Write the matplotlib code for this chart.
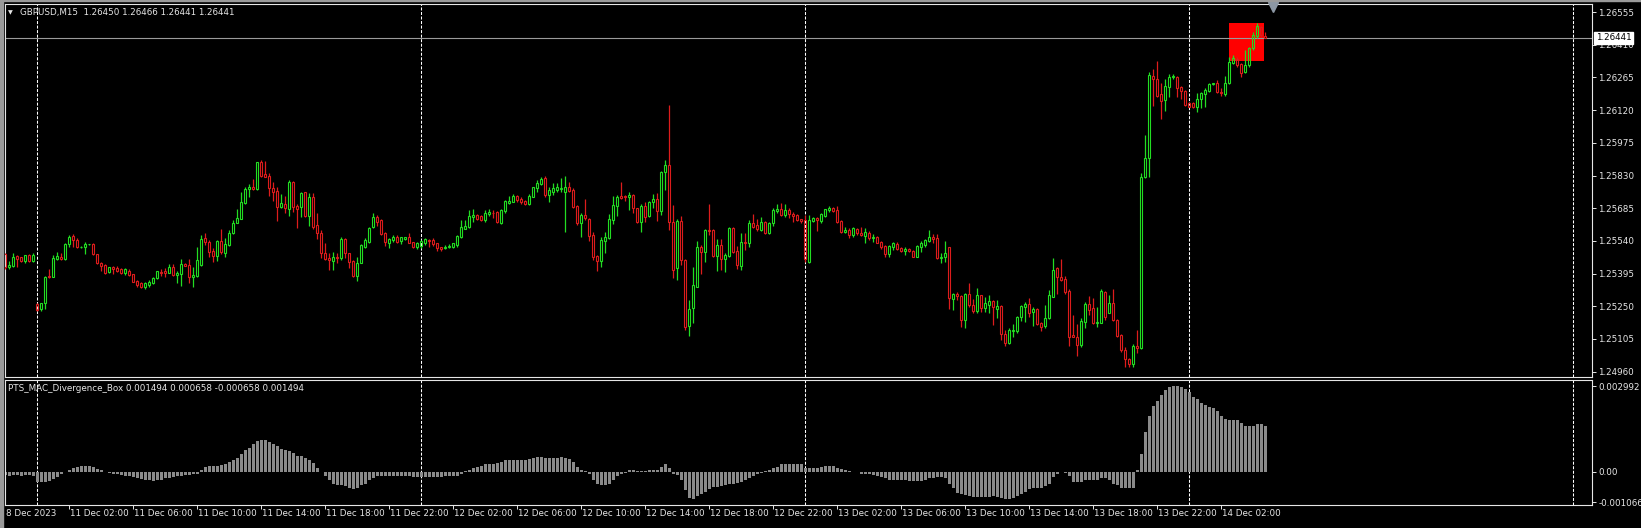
import numpy as np
import matplotlib
matplotlib.use('Agg')
import matplotlib.pyplot as plt
from matplotlib.patches import Rectangle

# GBPUSD M15, first bar is 8 Dec 22:00 (index -8), 11 Dec 00:00 is index 0
symbol = 'GBPUSD,M15'
first_bar = -8

opens = [
    1.25482, 1.25422, 1.25430, 1.25473, 1.25467, 1.25450, 1.25476, 1.25452,
    1.25260, 1.25239, 1.25263, 1.25384, 1.25381, 1.25458, 1.25470, 1.25459, 1.25524, 1.25561,
    1.25544, 1.25514, 1.25514, 1.25524, 1.25526, 1.25480, 1.25443, 1.25433, 1.25402, 1.25422,
    1.25421, 1.25414, 1.25396, 1.25408, 1.25391, 1.25362, 1.25354, 1.25337, 1.25344, 1.25351,
    1.25374, 1.25403, 1.25405, 1.25399, 1.25425, 1.25387, 1.25393, 1.25436, 1.25431, 1.25381,
    1.25384, 1.25433, 1.25551, 1.25533, 1.25496, 1.25473, 1.25541, 1.25487, 1.25521, 1.25573,
    1.25621, 1.25638, 1.25706, 1.25768, 1.25777, 1.25770, 1.25888, 1.25837, 1.25828, 1.25773,
    1.25763, 1.25692, 1.25703, 1.25681, 1.25800, 1.25695, 1.25689, 1.25755, 1.25652, 1.25733,
    1.25610, 1.25576, 1.25485, 1.25463, 1.25452, 1.25470, 1.25463, 1.25547, 1.25485, 1.25452,
    1.25384, 1.25444, 1.25515, 1.25534, 1.25600, 1.25648, 1.25633, 1.25574, 1.25529, 1.25544,
    1.25559, 1.25541, 1.25549, 1.25556, 1.25534, 1.25512, 1.25517, 1.25532, 1.25544, 1.25544,
    1.25529, 1.25512, 1.25507, 1.25512, 1.25512, 1.25522, 1.25559, 1.25594, 1.25603, 1.25648,
    1.25655, 1.25652, 1.25633, 1.25659, 1.25665, 1.25668, 1.25621, 1.25674, 1.25710, 1.25714,
    1.25739, 1.25727, 1.25719, 1.25704, 1.25736, 1.25773, 1.25793, 1.25818, 1.25744, 1.25759,
    1.25766, 1.25769, 1.25759, 1.25778, 1.25766, 1.25695, 1.25621, 1.25655, 1.25636, 1.25566,
    1.25473, 1.25452, 1.25541, 1.25551, 1.25633, 1.25696, 1.25739, 1.25741, 1.25733, 1.25744,
    1.25685, 1.25625, 1.25695, 1.25651, 1.25714, 1.25726, 1.25674, 1.25846, 1.25877, 1.25625,
    1.25418, 1.25628, 1.25455, 1.25162, 1.25244, 1.25337, 1.25514, 1.25492, 1.25588, 1.25588,
    1.25473, 1.25522, 1.25458, 1.25473, 1.25596, 1.25495, 1.25428, 1.25536, 1.25529, 1.25621,
    1.25610, 1.25588, 1.25625, 1.25573, 1.25618, 1.25674, 1.25680, 1.25655, 1.25677, 1.25658,
    1.25655, 1.25635, 1.25633, 1.25448, 1.25630, 1.25640, 1.25630, 1.25652, 1.25677, 1.25686,
    1.25677, 1.25628, 1.25581, 1.25588, 1.25566, 1.25593, 1.25576, 1.25563, 1.25573, 1.25551,
    1.25556, 1.25533, 1.25517, 1.25482, 1.25514, 1.25525, 1.25507, 1.25496, 1.25504, 1.25495,
    1.25470, 1.25514, 1.25522, 1.25541, 1.25556, 1.25551, 1.25462, 1.25467, 1.25511, 1.25281,
    1.25303, 1.25295, 1.25189, 1.25303, 1.25255, 1.25230, 1.25299, 1.25243, 1.25255, 1.25273,
    1.25237, 1.25251, 1.25126, 1.25088, 1.25141, 1.25141, 1.25203, 1.25248, 1.25260, 1.25226,
    1.25237, 1.25174, 1.25162, 1.25196, 1.25292, 1.25418, 1.25378, 1.25373, 1.25319, 1.25122,
    1.25115, 1.25078, 1.25181, 1.25260, 1.25240, 1.25177, 1.25177, 1.25314, 1.25221, 1.25263,
    1.25189, 1.25122, 1.25055, 1.25014, 1.24993, 1.25073, 1.25064, 1.25825, 1.25906, 1.26272,
    1.26257, 1.26192, 1.26165, 1.26224, 1.26266, 1.26269, 1.26221, 1.26207, 1.26153, 1.26150,
    1.26133, 1.26168, 1.26190, 1.26207, 1.26236, 1.26239, 1.26202, 1.26192, 1.26239, 1.26331,
    1.26346, 1.26325, 1.26291, 1.26321, 1.26395, 1.26449, 1.26491, 1.26450,
]
highs = [
    1.25487, 1.25450, 1.25485, 1.25476, 1.25470, 1.25479, 1.25480, 1.25485,
    1.25266, 1.25266, 1.25384, 1.25416, 1.25479, 1.25492, 1.25486, 1.25529, 1.25566, 1.25569,
    1.25553, 1.25518, 1.25533, 1.25527, 1.25530, 1.25483, 1.25448, 1.25437, 1.25425, 1.25427,
    1.25428, 1.25419, 1.25419, 1.25414, 1.25394, 1.25366, 1.25359, 1.25359, 1.25366, 1.25381,
    1.25408, 1.25416, 1.25418, 1.25436, 1.25436, 1.25406, 1.25459, 1.25440, 1.25458, 1.25425,
    1.25514, 1.25564, 1.25573, 1.25544, 1.25510, 1.25544, 1.25591, 1.25551, 1.25588, 1.25632,
    1.25680, 1.25755, 1.25777, 1.25791, 1.25814, 1.25891, 1.25899, 1.25896, 1.25839, 1.25800,
    1.25777, 1.25748, 1.25740, 1.25810, 1.25805, 1.25702, 1.25758, 1.25758, 1.25754, 1.25751,
    1.25662, 1.25588, 1.25532, 1.25488, 1.25492, 1.25488, 1.25556, 1.25551, 1.25488, 1.25455,
    1.25470, 1.25526, 1.25551, 1.25603, 1.25665, 1.25654, 1.25636, 1.25581, 1.25551, 1.25566,
    1.25565, 1.25559, 1.25559, 1.25574, 1.25537, 1.25534, 1.25544, 1.25551, 1.25547, 1.25551,
    1.25532, 1.25515, 1.25522, 1.25525, 1.25532, 1.25566, 1.25633, 1.25633, 1.25677, 1.25682,
    1.25658, 1.25655, 1.25677, 1.25683, 1.25677, 1.25673, 1.25680, 1.25722, 1.25739, 1.25747,
    1.25742, 1.25736, 1.25722, 1.25747, 1.25781, 1.25810, 1.25822, 1.25828, 1.25778, 1.25795,
    1.25798, 1.25818, 1.25828, 1.25803, 1.25773, 1.25699, 1.25662, 1.25726, 1.25640, 1.25578,
    1.25478, 1.25556, 1.25581, 1.25658, 1.25739, 1.25744, 1.25803, 1.25744, 1.25756, 1.25747,
    1.25688, 1.25704, 1.25714, 1.25719, 1.25748, 1.25751, 1.25850, 1.25899, 1.26144, 1.25699,
    1.25635, 1.25650, 1.25458, 1.25278, 1.25422, 1.25539, 1.25522, 1.25593, 1.25704, 1.25591,
    1.25547, 1.25547, 1.25488, 1.25603, 1.25600, 1.25517, 1.25573, 1.25573, 1.25633, 1.25659,
    1.25635, 1.25644, 1.25630, 1.25625, 1.25684, 1.25704, 1.25706, 1.25704, 1.25684, 1.25669,
    1.25658, 1.25637, 1.25655, 1.25653, 1.25644, 1.25647, 1.25665, 1.25683, 1.25695, 1.25692,
    1.25695, 1.25633, 1.25603, 1.25596, 1.25603, 1.25596, 1.25603, 1.25599, 1.25585, 1.25570,
    1.25562, 1.25539, 1.25522, 1.25522, 1.25536, 1.25536, 1.25511, 1.25514, 1.25507, 1.25499,
    1.25520, 1.25539, 1.25548, 1.25588, 1.25570, 1.25570, 1.25488, 1.25539, 1.25514, 1.25307,
    1.25315, 1.25300, 1.25307, 1.25352, 1.25280, 1.25333, 1.25302, 1.25292, 1.25302, 1.25277,
    1.25277, 1.25254, 1.25144, 1.25152, 1.25169, 1.25206, 1.25255, 1.25270, 1.25285, 1.25245,
    1.25242, 1.25181, 1.25255, 1.25322, 1.25462, 1.25425, 1.25458, 1.25384, 1.25325, 1.25211,
    1.25171, 1.25196, 1.25270, 1.25295, 1.25288, 1.25245, 1.25325, 1.25319, 1.25299, 1.25325,
    1.25192, 1.25126, 1.25067, 1.25021, 1.25082, 1.25144, 1.25840, 1.26010, 1.26291, 1.26303,
    1.26338, 1.26239, 1.26257, 1.26281, 1.26281, 1.26272, 1.26227, 1.26210, 1.26158, 1.26158,
    1.26195, 1.26202, 1.26217, 1.26239, 1.26242, 1.26254, 1.26217, 1.26272, 1.26358, 1.26365,
    1.26355, 1.26331, 1.26387, 1.26402, 1.26468, 1.26505, 1.26494, 1.26466,
]
lows = [
    1.25415, 1.25415, 1.25425, 1.25425, 1.25446, 1.25440, 1.25445, 1.25448,
    1.25230, 1.25229, 1.25239, 1.25375, 1.25381, 1.25455, 1.25455, 1.25455, 1.25511, 1.25511,
    1.25510, 1.25510, 1.25480, 1.25520, 1.25479, 1.25436, 1.25406, 1.25393, 1.25396, 1.25393,
    1.25402, 1.25393, 1.25390, 1.25385, 1.25356, 1.25337, 1.25332, 1.25328, 1.25337, 1.25348,
    1.25372, 1.25384, 1.25381, 1.25396, 1.25384, 1.25351, 1.25341, 1.25428, 1.25351, 1.25334,
    1.25381, 1.25430, 1.25521, 1.25467, 1.25448, 1.25450, 1.25482, 1.25470, 1.25519, 1.25569,
    1.25618, 1.25635, 1.25703, 1.25736, 1.25765, 1.25765, 1.25822, 1.25822, 1.25740, 1.25718,
    1.25629, 1.25684, 1.25662, 1.25652, 1.25669, 1.25598, 1.25647, 1.25647, 1.25606, 1.25592,
    1.25547, 1.25462, 1.25455, 1.25411, 1.25411, 1.25444, 1.25455, 1.25463, 1.25418, 1.25381,
    1.25364, 1.25441, 1.25507, 1.25529, 1.25596, 1.25606, 1.25566, 1.25517, 1.25510, 1.25537,
    1.25529, 1.25526, 1.25544, 1.25529, 1.25507, 1.25506, 1.25507, 1.25522, 1.25512, 1.25519,
    1.25497, 1.25497, 1.25504, 1.25507, 1.25507, 1.25515, 1.25551, 1.25591, 1.25596, 1.25625,
    1.25633, 1.25630, 1.25625, 1.25651, 1.25640, 1.25621, 1.25615, 1.25662, 1.25704, 1.25711,
    1.25714, 1.25704, 1.25699, 1.25701, 1.25733, 1.25759, 1.25788, 1.25736, 1.25711, 1.25744,
    1.25759, 1.25759, 1.25581, 1.25759, 1.25685, 1.25611, 1.25556, 1.25633, 1.25541, 1.25455,
    1.25408, 1.25426, 1.25485, 1.25547, 1.25615, 1.25651, 1.25725, 1.25719, 1.25677, 1.25665,
    1.25621, 1.25581, 1.25625, 1.25645, 1.25684, 1.25630, 1.25655, 1.25766, 1.25588, 1.25374,
    1.25366, 1.25433, 1.25144, 1.25118, 1.25177, 1.25334, 1.25393, 1.25448, 1.25566, 1.25467,
    1.25408, 1.25411, 1.25403, 1.25470, 1.25488, 1.25414, 1.25411, 1.25499, 1.25514, 1.25596,
    1.25585, 1.25585, 1.25570, 1.25570, 1.25606, 1.25665, 1.25650, 1.25647, 1.25640, 1.25625,
    1.25630, 1.25621, 1.25448, 1.25443, 1.25625, 1.25585, 1.25621, 1.25647, 1.25669, 1.25669,
    1.25621, 1.25576, 1.25573, 1.25551, 1.25559, 1.25566, 1.25562, 1.25532, 1.25544, 1.25536,
    1.25529, 1.25502, 1.25467, 1.25470, 1.25499, 1.25499, 1.25492, 1.25477, 1.25492, 1.25467,
    1.25467, 1.25492, 1.25514, 1.25536, 1.25529, 1.25458, 1.25443, 1.25448, 1.25236, 1.25233,
    1.25278, 1.25159, 1.25152, 1.25248, 1.25218, 1.25221, 1.25226, 1.25223, 1.25221, 1.25166,
    1.25200, 1.25100, 1.25075, 1.25082, 1.25115, 1.25132, 1.25186, 1.25181, 1.25203, 1.25162,
    1.25166, 1.25141, 1.25152, 1.25192, 1.25289, 1.25304, 1.25363, 1.25304, 1.25073, 1.25112,
    1.25029, 1.25070, 1.25152, 1.25211, 1.25171, 1.25159, 1.25174, 1.25189, 1.25218, 1.25186,
    1.25112, 1.25048, 1.24981, 1.24981, 1.24981, 1.25041, 1.25061, 1.25818, 1.25825, 1.26139,
    1.26180, 1.26080, 1.26118, 1.26177, 1.26260, 1.26180, 1.26168, 1.26139, 1.26133, 1.26128,
    1.26114, 1.26128, 1.26133, 1.26202, 1.26233, 1.26198, 1.26185, 1.26183, 1.26236, 1.26324,
    1.26313, 1.26269, 1.26287, 1.26313, 1.26387, 1.26439, 1.26446, 1.26441,
]
closes = [
    1.25422, 1.25433, 1.25470, 1.25461, 1.25450, 1.25476, 1.25450, 1.25479,
    1.25233, 1.25263, 1.25381, 1.25378, 1.25464, 1.25473, 1.25459, 1.25524, 1.25557, 1.25544,
    1.25514, 1.25514, 1.25524, 1.25524, 1.25482, 1.25440, 1.25428, 1.25399, 1.25422, 1.25414,
    1.25408, 1.25399, 1.25414, 1.25388, 1.25359, 1.25344, 1.25337, 1.25354, 1.25359, 1.25377,
    1.25406, 1.25399, 1.25399, 1.25425, 1.25387, 1.25399, 1.25436, 1.25430, 1.25381, 1.25388,
    1.25455, 1.25548, 1.25533, 1.25492, 1.25474, 1.25539, 1.25492, 1.25524, 1.25573, 1.25621,
    1.25643, 1.25711, 1.25770, 1.25780, 1.25771, 1.25888, 1.25828, 1.25825, 1.25773, 1.25758,
    1.25692, 1.25709, 1.25684, 1.25800, 1.25692, 1.25680, 1.25754, 1.25652, 1.25733, 1.25603,
    1.25573, 1.25485, 1.25458, 1.25455, 1.25467, 1.25463, 1.25547, 1.25485, 1.25448, 1.25384,
    1.25444, 1.25522, 1.25544, 1.25596, 1.25645, 1.25625, 1.25571, 1.25537, 1.25547, 1.25559,
    1.25537, 1.25556, 1.25556, 1.25532, 1.25512, 1.25529, 1.25538, 1.25547, 1.25541, 1.25526,
    1.25507, 1.25503, 1.25515, 1.25517, 1.25529, 1.25563, 1.25600, 1.25606, 1.25652, 1.25654,
    1.25636, 1.25633, 1.25665, 1.25668, 1.25662, 1.25625, 1.25677, 1.25716, 1.25719, 1.25741,
    1.25722, 1.25711, 1.25704, 1.25741, 1.25778, 1.25795, 1.25813, 1.25744, 1.25766, 1.25773,
    1.25778, 1.25775, 1.25781, 1.25763, 1.25689, 1.25618, 1.25655, 1.25640, 1.25562, 1.25470,
    1.25452, 1.25544, 1.25556, 1.25636, 1.25699, 1.25736, 1.25729, 1.25733, 1.25744, 1.25685,
    1.25625, 1.25695, 1.25648, 1.25714, 1.25724, 1.25674, 1.25846, 1.25877, 1.25625, 1.25411,
    1.25628, 1.25455, 1.25159, 1.25236, 1.25343, 1.25511, 1.25492, 1.25588, 1.25585, 1.25473,
    1.25522, 1.25458, 1.25477, 1.25599, 1.25492, 1.25433, 1.25533, 1.25529, 1.25621, 1.25603,
    1.25591, 1.25625, 1.25573, 1.25621, 1.25677, 1.25680, 1.25655, 1.25677, 1.25658, 1.25652,
    1.25633, 1.25630, 1.25458, 1.25633, 1.25640, 1.25633, 1.25658, 1.25680, 1.25684, 1.25674,
    1.25625, 1.25581, 1.25588, 1.25566, 1.25596, 1.25573, 1.25566, 1.25578, 1.25551, 1.25559,
    1.25532, 1.25514, 1.25482, 1.25517, 1.25529, 1.25505, 1.25496, 1.25504, 1.25495, 1.25470,
    1.25517, 1.25529, 1.25544, 1.25556, 1.25547, 1.25462, 1.25467, 1.25488, 1.25285, 1.25303,
    1.25295, 1.25189, 1.25303, 1.25255, 1.25230, 1.25302, 1.25240, 1.25263, 1.25273, 1.25245,
    1.25251, 1.25129, 1.25085, 1.25144, 1.25144, 1.25203, 1.25251, 1.25260, 1.25221, 1.25237,
    1.25171, 1.25159, 1.25196, 1.25302, 1.25410, 1.25378, 1.25366, 1.25314, 1.25115, 1.25115,
    1.25078, 1.25186, 1.25260, 1.25233, 1.25174, 1.25181, 1.25319, 1.25203, 1.25263, 1.25189,
    1.25117, 1.25055, 1.25014, 1.24993, 1.25073, 1.25063, 1.25825, 1.25906, 1.26276, 1.26257,
    1.26185, 1.26162, 1.26227, 1.26266, 1.26272, 1.26217, 1.26207, 1.26143, 1.26136, 1.26133,
    1.26168, 1.26198, 1.26210, 1.26236, 1.26239, 1.26202, 1.26195, 1.26242, 1.26335, 1.26350,
    1.26321, 1.26287, 1.26321, 1.26395, 1.26454, 1.26494, 1.26454, 1.26441,
]

# PTS_MAC_Divergence_Box histogram, same bars
mac_hist = [
    -0.00012, -0.00013, -0.00012, -0.00012, -0.00013, -0.00012, -0.00012, -0.00013,
    -0.00036, -0.00036, -0.00036, -0.00032, -0.00025, -0.00018, -0.00008, -0.00001, 0.00006, 0.00014,
    0.00017, 0.00020, 0.00022, 0.00020, 0.00016, 0.00010, 0.00005, 0.00001, -0.00003, -0.00006,
    -0.00008, -0.00010, -0.00013, -0.00015, -0.00019, -0.00022, -0.00025, -0.00027, -0.00030, -0.00031,
    -0.00030, -0.00027, -0.00023, -0.00020, -0.00017, -0.00015, -0.00013, -0.00012, -0.00010, -0.00009,
    -0.00006, 0.00008, 0.00016, 0.00020, 0.00021, 0.00022, 0.00023, 0.00026, 0.00034, 0.00041,
    0.00050, 0.00061, 0.00075, 0.00085, 0.00096, 0.00107, 0.00110, 0.00110, 0.00104, 0.00099,
    0.00089, 0.00081, 0.00075, 0.00073, 0.00066, 0.00057, 0.00055, 0.00050, 0.00041, 0.00031,
    0.00015, -0.00002, -0.00015, -0.00029, -0.00041, -0.00046, -0.00046, -0.00050, -0.00055, -0.00060,
    -0.00055, -0.00046, -0.00041, -0.00029, -0.00020, -0.00015, -0.00013, -0.00013, -0.00013, -0.00014,
    -0.00014, -0.00015, -0.00015, -0.00016, -0.00017, -0.00017, -0.00017, -0.00017, -0.00017, -0.00017,
    -0.00017, -0.00017, -0.00016, -0.00015, -0.00015, -0.00013, -0.00006, 0.00003, 0.00008, 0.00015,
    0.00017, 0.00022, 0.00026, 0.00029, 0.00029, 0.00031, 0.00034, 0.00041, 0.00043, 0.00043,
    0.00043, 0.00043, 0.00043, 0.00044, 0.00049, 0.00052, 0.00052, 0.00050, 0.00050, 0.00050,
    0.00049, 0.00052, 0.00050, 0.00046, 0.00035, 0.00017, 0.00008, 0.00003, -0.00008, -0.00029,
    -0.00041, -0.00046, -0.00046, -0.00041, -0.00029, -0.00015, -0.00008, -0.00003, 0.00006, 0.00006,
    0.00003, 0.00003, 0.00003, 0.00006, 0.00008, 0.00008, 0.00017, 0.00026, 0.00015, -0.00006,
    -0.00012, -0.00029, -0.00064, -0.00093, -0.00096, -0.00085, -0.00078, -0.00070, -0.00061, -0.00052,
    -0.00052, -0.00050, -0.00046, -0.00041, -0.00041, -0.00038, -0.00035, -0.00029, -0.00023, -0.00015,
    -0.00008, -0.00003, 0.00003, 0.00006, 0.00012, 0.00017, 0.00026, 0.00029, 0.00029, 0.00029,
    0.00029, 0.00026, 0.00015, 0.00012, 0.00012, 0.00014, 0.00017, 0.00021, 0.00021, 0.00020,
    0.00014, 0.00010, 0.00006, 0.00002, -0.00001, -0.00002, -0.00006, -0.00008, -0.00009, -0.00012,
    -0.00015, -0.00017, -0.00023, -0.00027, -0.00027, -0.00027, -0.00027, -0.00029, -0.00031, -0.00032,
    -0.00032, -0.00031, -0.00027, -0.00023, -0.00020, -0.00017, -0.00017, -0.00023, -0.00041, -0.00058,
    -0.00075, -0.00078, -0.00081, -0.00085, -0.00087, -0.00087, -0.00087, -0.00087, -0.00087, -0.00085,
    -0.00087, -0.00093, -0.00096, -0.00096, -0.00093, -0.00085, -0.00078, -0.00070, -0.00061, -0.00055,
    -0.00058, -0.00055, -0.00050, -0.00041, -0.00017, -0.00006, -0.00001, -0.00003, -0.00015, -0.00035,
    -0.00035, -0.00035, -0.00029, -0.00029, -0.00029, -0.00029, -0.00021, -0.00023, -0.00029, -0.00041,
    -0.00046, -0.00058, -0.00058, -0.00058, -0.00058, 0.00005, 0.00064, 0.00139, 0.00194, 0.00229,
    0.00249, 0.00270, 0.00287, 0.00296, 0.00299, 0.00299, 0.00298, 0.00290, 0.00278, 0.00263,
    0.00255, 0.00240, 0.00234, 0.00226, 0.00224, 0.00212, 0.00197, 0.00186, 0.00180, 0.00180,
    0.00180, 0.00171, 0.00162, 0.00159, 0.00159, 0.00166, 0.00166, 0.00159,
]

ind_name = 'PTS_MAC_Divergence_Box'
ind_values = [0.001494, 0.000658, -0.000658, 0.001494]

# divergence box (bar range, price range)
box_bars = (298, 307)
box_prices = (1.26338, 1.26507)

price_ticks = [1.26555, 1.26410, 1.26265, 1.26120, 1.25975, 1.25830,
               1.25685, 1.25540, 1.25395, 1.25250, 1.25105, 1.24960]
ind_ticks = [0.002992, 0.0, -0.001066]
ind_tick_labels = ['0.002992', '0.00', '-0.001066']

day_starts = [0, 96, 192, 288, 384]  # 11..15 Dec 00:00
time_labels = ['11 Dec 02:00', '11 Dec 06:00', '11 Dec 10:00', '11 Dec 14:00',
               '11 Dec 18:00', '11 Dec 22:00', '12 Dec 02:00', '12 Dec 06:00',
               '12 Dec 10:00', '12 Dec 14:00', '12 Dec 18:00', '12 Dec 22:00',
               '13 Dec 02:00', '13 Dec 06:00', '13 Dec 10:00', '13 Dec 14:00',
               '13 Dec 18:00', '13 Dec 22:00', '14 Dec 02:00']
first_label = '8 Dec 2023'

bull = '#22dd22'
bear = '#dd1c1c'
fg = '#e6e6e6'
fs = 6.3

W, H = 1641, 528
fig = plt.figure(figsize=(W / 100, H / 100), dpi=100, facecolor='black')


def px_axes(left, top, right, bottom):
    return fig.add_axes([left / W, 1 - bottom / H, (right - left) / W, (bottom - top) / H])


ax = px_axes(4.5, 4, 1592, 377)
ax_ind = px_axes(4.5, 380, 1592, 505)

o = np.array(opens)
h = np.array(highs)
l = np.array(lows)
c = np.array(closes)
x = np.arange(first_bar, first_bar + len(c))
up = c >= o
cols = np.where(up, bull, bear)
top = np.maximum(o, c)
bot = np.minimum(o, c)

for a in (ax, ax_ind):
    a.set_facecolor('black')
    a.set_xlim(-8.2, 388.7)
    for s in a.spines.values():
        s.set_color(fg)
        s.set_linewidth(0.8)
    for d in day_starts:
        a.axvline(d, color='white', lw=0.75, ls=(0, (2.9, 1.45)), zorder=1)

# divergence box behind candles
ax.add_patch(Rectangle((box_bars[0] - 0.1, box_prices[0]), box_bars[1] - box_bars[0] - 0.1,
                       box_prices[1] - box_prices[0], color='#ff0000', lw=0, zorder=2))

# candles: wicks outside hollow bodies
ax.vlines(x, top, h, colors=cols, lw=0.9, zorder=3)
ax.vlines(x, l, bot, colors=cols, lw=0.9, zorder=3)
ax.bar(x, top - bot, bottom=bot, width=0.5, fill=False, edgecolor=cols, lw=0.8, zorder=4)

ax.set_ylim(1.24936, 1.26591)
ax.axhline(c[-1], color='#9a9a9a', lw=0.8, zorder=2)

ax.yaxis.tick_right()
ax.set_yticks(price_ticks)
ax.set_yticklabels([f'{p:.5f}' for p in price_ticks])
ax.tick_params(axis='y', colors=fg, labelcolor=fg, labelsize=fs, length=3, width=0.7, pad=1.5)
ax.tick_params(axis='x', bottom=False, labelbottom=False)

ax.annotate(f'{c[-1]:.5f}', xy=(1, c[-1]), xycoords=('axes fraction', 'data'),
            xytext=(4, 0), textcoords='offset pixels', ha='left', va='center',
            fontsize=fs, color='black', zorder=10, annotation_clip=False,
            bbox=dict(boxstyle='square,pad=0.2', fc='white', ec='white'))

# chart shift marker
ax.plot([0.799], [0.991], marker='v', ms=6.5, color='#8c97a4', mec='#8c97a4',
        transform=ax.transAxes, clip_on=False, zorder=6)

# indicator histogram
ax_ind.bar(x, mac_hist, width=0.7, color='#8a8a8a', lw=0, zorder=2)
ax_ind.set_ylim(-0.001158, 0.003215)
ax_ind.yaxis.tick_right()
ax_ind.set_yticks(ind_ticks)
ax_ind.set_yticklabels(ind_tick_labels)
ax_ind.tick_params(axis='y', colors=fg, labelcolor=fg, labelsize=fs, length=3, width=0.7, pad=1.5)

tick_pos = [8 + 16 * k for k in range(len(time_labels))]
ax_ind.set_xticks(tick_pos)
ax_ind.tick_params(axis='x', colors=fg, length=3, width=0.7, labelbottom=False)
for pos, lab in zip(tick_pos, time_labels):
    ax_ind.annotate(lab, xy=(pos, 0), xycoords=('data', 'axes fraction'), xytext=(1, -9),
                    textcoords='offset pixels', ha='left', va='center', fontsize=fs,
                    color=fg, annotation_clip=False)
ax_ind.annotate(first_label, xy=(0, 0), xycoords='axes fraction', xytext=(1, -9),
                textcoords='offset pixels', ha='left', va='center', fontsize=fs,
                color=fg, annotation_clip=False)

# header texts
fig.text(8 / W, 1 - 12.5 / H, '\u25bc', fontsize=4.5, color=fg, va='center')
fig.text(20.5 / W, 1 - 12.7 / H,
         f'{symbol}  {o[-1]:.5f} {h[-1]:.5f} {l[-1]:.5f} {c[-1]:.5f}',
         fontsize=fs, color=fg, va='center')
fig.text(8 / W, 1 - 388.7 / H, ind_name + ' ' + ' '.join(f'{v:.6f}' for v in ind_values),
         fontsize=fs, color=fg, va='center')

# window border
fig.patches.append(Rectangle((0, 0), 2.5 / W, 1, transform=fig.transFigure, color='#9a9a9a'))
fig.patches.append(Rectangle((0, 1 - 1.2 / H), 1, 1.2 / H, transform=fig.transFigure, color='#9a9a9a'))

fig.savefig('out.png', dpi=100, facecolor='black')
